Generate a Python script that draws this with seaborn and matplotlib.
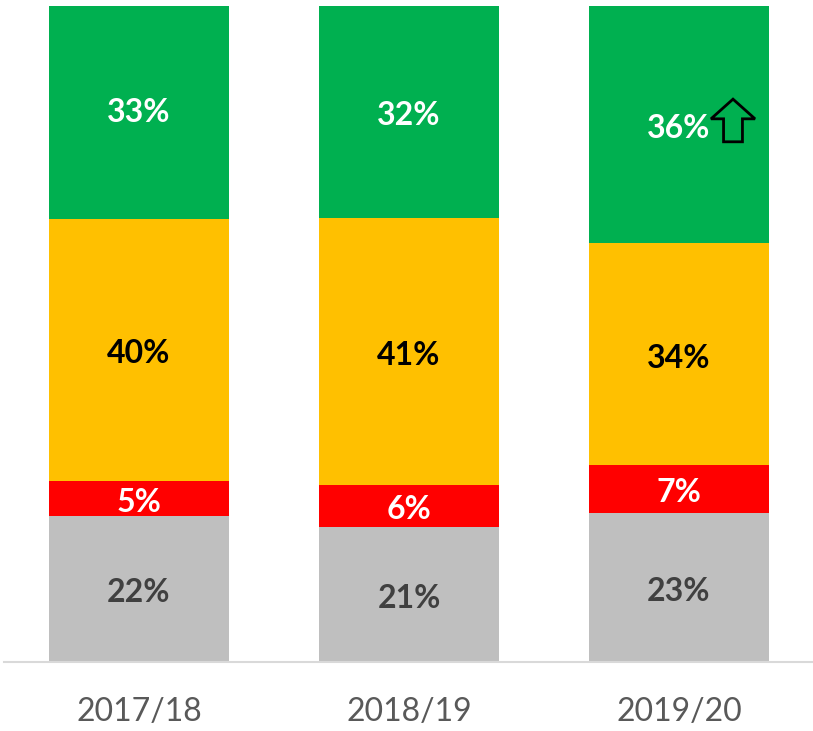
import matplotlib
matplotlib.use("Agg")
import matplotlib.pyplot as plt
import seaborn as sns
import numpy as np
from matplotlib.patches import FancyArrow

# values (percent, segment heights; labels are rounded)
years = ["2017/18", "2018/19", "2019/20"]
grey = [22.3, 20.6, 22.7]
red = [5.3, 6.4, 7.3]
amber = [40.0, 40.7, 33.8]
green = [33.4, 32.3, 36.2]

layers = [
    ("grey", grey, "#bfbfbf", "#404040"),
    ("red", red, "#ff0000", "white"),
    ("amber", amber, "#ffc000", "black"),
    ("green", green, "#00b050", "white"),
]

sns.set_style("white")
plt.rcParams["font.family"] = ["Lato", "DejaVu Sans"]

fig = plt.figure(figsize=(8.13, 7.31), dpi=100)
ax = fig.add_axes([4 / 813, 69 / 731, 810 / 813, 656 / 731])

# stacked bars: draw cumulative totals from the top layer down
cum = np.cumsum([l[1] for l in layers], axis=0)
for i in range(len(layers) - 1, -1, -1):
    sns.barplot(x=years, y=cum[i], color=layers[i][2], width=0.667,
                saturation=1, linewidth=0, ax=ax)

# segment labels (baseline placed so the digits sit centred in the segment)
for i, (name, vals, col, tcol) in enumerate(layers):
    for j, v in enumerate(vals):
        mid = cum[i][j] - v / 2
        ax.annotate(f"{round(v)}%", (j, mid), xytext=(0, -9.5),
                    textcoords="offset points", ha="center", va="baseline",
                    color=tcol, fontsize=23, fontweight="bold")

# outlined up arrow next to the 2019/20 green figure
ax.add_patch(FancyArrow(2.2, 79.3, 0, 6.5, width=0.07, head_width=0.163,
                        head_length=3.0, length_includes_head=True,
                        facecolor="none", edgecolor="black", linewidth=2))

ax.set_xlim(-0.5, 2.5)
ax.set_ylim(0, 100)
ax.set_yticks([])
ax.set_xlabel("")
ax.set_ylabel("")
for s in ["top", "left", "right"]:
    ax.spines[s].set_visible(False)
ax.spines["bottom"].set_color("#d9d9d9")
ax.spines["bottom"].set_linewidth(1.5)
ax.tick_params(axis="x", length=0, pad=25, labelsize=23, labelcolor="#595959")

fig.savefig("out.png", dpi=100)
